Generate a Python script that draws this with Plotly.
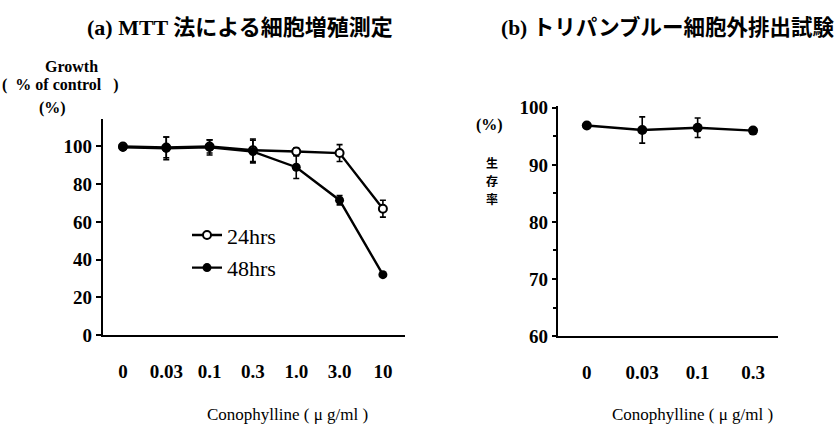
import plotly.graph_objects as go

# Panel (a): MTT growth assay
doses_a = ["0", "0.03", "0.1", "0.3", "1.0", "3.0", "10"]
growth_24h = [100, 99.5, 100, 98, 97.3, 96.5, 67]
err_24h = [0.8, 5.5, 3.5, 6, 2, 4.5, 4.5]
growth_48h = [99.5, 99, 99.5, 97.3, 89, 71.5, 32]
err_48h = [0.8, 6, 4, 6, 6, 2.5, 1]
ticks_a = [0, 20, 40, 60, 80, 100]

# Panel (b): trypan blue exclusion
doses_b = ["0", "0.03", "0.1", "0.3"]
viability = [96.9, 96.1, 96.5, 96.0]
err_viab = [0.4, 2.3, 1.7, 0.4]
ticks_b = [60, 70, 80, 90, 100]

FONT = "Liberation Serif, Noto Sans CJK JP, serif"
W, H = 838, 439

fig = go.Figure()

fig.add_trace(go.Scatter(
    x=doses_a, y=growth_24h, name="24hrs", legendgroup="a",
    mode="lines+markers",
    line=dict(color="black", width=2.4),
    marker=dict(symbol="circle", size=8, color="white",
                line=dict(color="black", width=2)),
    error_y=dict(type="data", array=err_24h, color="black",
                 thickness=1.6, width=3),
    xaxis="x", yaxis="y",
))
fig.add_trace(go.Scatter(
    x=doses_a, y=growth_48h, name="48hrs", legendgroup="b",
    mode="lines+markers",
    line=dict(color="black", width=2.4),
    marker=dict(symbol="circle", size=9, color="black"),
    error_y=dict(type="data", array=err_48h, color="black",
                 thickness=1.6, width=3),
    xaxis="x", yaxis="y",
))
fig.add_trace(go.Scatter(
    x=doses_b, y=viability, showlegend=False,
    mode="lines+markers",
    line=dict(color="black", width=2.4),
    marker=dict(symbol="circle", size=10, color="black"),
    error_y=dict(type="data", array=err_viab, color="black",
                 thickness=1.6, width=3),
    xaxis="x2", yaxis="y2",
))

def px_x(p):
    return p / W

def px_y(p):
    return 1 - p / H

axis_common = dict(
    showgrid=False, zeroline=False, showline=True, linecolor="black",
    linewidth=2.2, color="black", fixedrange=True,
)
tick_font = dict(size=19, family=FONT, weight="bold")

fig.update_layout(
    width=W, height=H, autosize=False,
    margin=dict(l=0, r=0, t=0, b=0),
    paper_bgcolor="white", plot_bgcolor="white",
    font=dict(family=FONT, color="black", size=15),
    showlegend=True,
    legend=dict(
        x=px_x(187), y=px_y(215), xanchor="left", yanchor="top",
        bgcolor="rgba(0,0,0,0)", font=dict(size=22, family=FONT),
        tracegroupgap=1, itemwidth=30, traceorder="grouped",
    ),
    xaxis=dict(
        **axis_common, type="category", domain=[px_x(103), px_x(405)],
        range=[-0.46, 6.51], anchor="y", ticks="",
        ticklabelstandoff=18, tickfont=tick_font,
    ),
    yaxis=dict(
        **axis_common, domain=[px_y(341.5), px_y(115)], range=[0, 114.7],
        anchor="x", tickvals=ticks_a, ticks="outside", ticklen=5,
        tickwidth=2, tickcolor="black", tickfont=tick_font,
    ),
    xaxis2=dict(
        **axis_common, type="category", domain=[px_x(558), px_x(778)],
        range=[-0.52, 3.45], anchor="y2", ticks="",
        ticklabelstandoff=18, tickfont=tick_font,
    ),
    yaxis2=dict(
        **axis_common, domain=[px_y(342.7), px_y(101.7)], range=[60, 100.3],
        anchor="x2", tickvals=ticks_b, ticks="outside", ticklen=4,
        tickwidth=2, tickcolor="black",
        minor=dict(dtick=5, ticks="outside", ticklen=3, tickwidth=1.5,
                   tickcolor="black"),
        tickfont=tick_font,
    ),
)

notes = [
    ("(a) MTT 法による細胞増殖測定", 240, 19, 22, "center", "bold"),
    ("(b) トリパンブルー細胞外排出試験", 668, 19, 21.5, "center", "bold"),
    ("Growth", 43, 60, 16, "left", "bold"),
    ("(  % of control   )", 0, 80, 16, "left", "bold"),
    ("(%)", 37, 104, 16, "left", "bold"),
    ("(%)", 474, 122, 16, "left", "bold"),
    ("Conophylline ( μ g/ml )", 287, 425, 17, "center", "normal"),
    ("Conophylline ( μ g/ml )", 692, 425, 17, "center", "normal"),
]
for text, x, y, size, anchor, weight in notes:
    fig.add_annotation(
        text=text, x=px_x(x), y=px_y(y), xref="paper", yref="paper",
        xanchor=anchor, yanchor="middle", showarrow=False,
        font=dict(size=size, family=FONT, color="black", weight=weight),
    )

# vertical label for the viability axis, one character per line
for ch, y in zip("生存率", (161, 180, 199)):
    fig.add_annotation(
        text=ch, x=px_x(492), y=px_y(y), xref="paper", yref="paper",
        xanchor="center", yanchor="middle", showarrow=False,
        font=dict(size=12, family="Noto Sans CJK JP", color="black",
                  weight="bold"),
    )

fig.write_html("out.html")
